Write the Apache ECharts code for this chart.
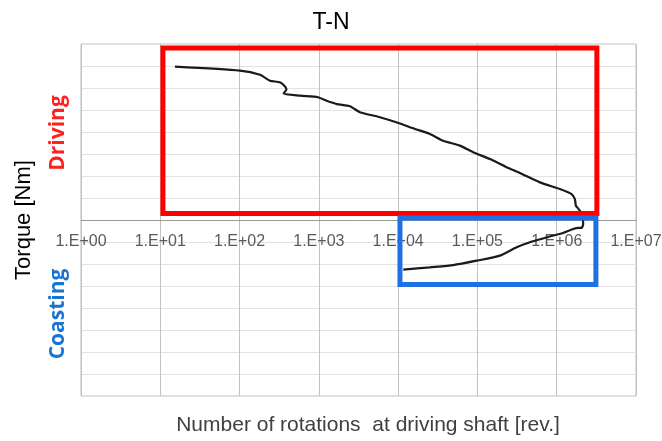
<!DOCTYPE html>
<html>
<head>
<meta charset="utf-8">
<title>T-N</title>
<script src="https://cdn.jsdelivr.net/npm/echarts@6/dist/echarts.min.js"></script>
<style>
  html, body { margin: 0; padding: 0; background: #fff; }
  #chart { width: 662px; height: 441px; }
</style>
</head>
<body>
<div id="chart"></div>
<script>
// number of rotations at driving shaft [rev.] (log scale) and torque (relative units, +driving / -coasting)
const rotations = [
  15.3, 101, 181, 242, 322, 374, 390, 358, 578, 975,
  1254, 1691, 2466, 3297, 5890, 9660, 16290, 25180, 37070, 60140,
  88510, 143900, 233500, 343600, 614000, 1096000, 1541000, 1695000, 1746000, 1963000,
  2122000, 2158000, 2061000, 1850000, 1197000, 746000, 459000, 312000, 192000, 97700,
  49500, 25200, 11600
]
const torque = [
  6.97, 6.79, 6.60, 6.33, 6.26, 6.07, 5.93, 5.75, 5.65, 5.58,
  5.42, 5.27, 5.17, 4.90, 4.67, 4.43, 4.14, 3.91, 3.60, 3.38,
  3.08, 2.77, 2.40, 2.14, 1.71, 1.41, 1.18, 0.95, 0.65, 0.42,
  0.05, -0.18, -0.36, -0.36, -0.59, -0.79, -1.01, -1.24, -1.62, -1.85,
  -2.05, -2.15, -2.26
]

// x tick values (decades) and their labels
const xTicks = [1, 10, 100, 1000, 10000, 100000, 1000000, 10000000]
const xTickLabels = ['1.E+00', '1.E+01', '1.E+02', '1.E+03', '1.E+04', '1.E+05', '1.E+06', '1.E+07']

// highlighted regions [xMin, xMax], [yMin, yMax]
const drivingBoxX = [10.8, 3210000]
const drivingBoxY = [0.3, 7.82]
const coastingBoxX = [10540, 3120000]
const coastingBoxY = [-2.93, 0.09]

const chart = echarts.init(document.getElementById('chart'))

const points = rotations.map((r, i) => [r, torque[i]])

// the x axis sits on torque = 0, half way down the plot
const gridTop = 44
const gridBottom = 45
const plotH = 441 - gridTop - gridBottom

const option = {
  animation: false,
  title: {
    text: 'T-N',
    left: 'center',
    top: 6,
    textStyle: { fontFamily: 'Liberation Sans', fontSize: 23, fontWeight: 'normal', color: '#000' }
  },
  grid: {
    left: 81,
    right: 26,
    top: gridTop,
    bottom: gridBottom,
    outerBoundsMode: 'none',
    show: true,
    borderColor: '#bdbdbd',
    borderWidth: 1
  },
  xAxis: {
    type: 'log',
    logBase: 10,
    min: 1,
    max: 10000000,
    position: 'bottom',
    offset: -plotH / 2,
    axisLine: { onZero: false, lineStyle: { color: '#9a9a9a', width: 1 } },
    axisTick: { show: false },
    splitLine: { show: true, lineStyle: { color: '#c2c2c2', width: 1 } },
    axisLabel: {
      margin: 14,
      fontFamily: 'Liberation Sans',
      fontSize: 16,
      color: '#5a5a5a',
      showMinLabel: true,
      showMaxLabel: true,
      formatter: function (v) {
        const i = xTicks.indexOf(v)
        return i >= 0 ? xTickLabels[i] : ''
      }
    }
  },
  yAxis: {
    type: 'value',
    min: -8,
    max: 8,
    interval: 1,
    name: 'Torque [Nm]',
    nameLocation: 'middle',
    nameGap: 46,
    nameTextStyle: { fontFamily: 'Liberation Sans', fontSize: 22, color: '#000' },
    axisLine: { show: false },
    axisTick: { show: false },
    axisLabel: { show: false },
    splitLine: { show: true, lineStyle: { color: '#e2e2e2', width: 1 } }
  },
  graphic: [
    {
      type: 'text',
      x: 58,
      y: 133,
      rotation: Math.PI / 2,
      style: {
        text: 'Driving',
        fill: '#ff2020',
        font: 'bold 21px "Open Sans"',
        align: 'center',
        verticalAlign: 'middle'
      }
    },
    {
      type: 'text',
      x: 58,
      y: 314,
      rotation: Math.PI / 2,
      style: {
        text: 'Coasting',
        fill: '#1b75d0',
        font: 'bold 21px "Open Sans"',
        align: 'center',
        verticalAlign: 'middle'
      }
    },
    {
      type: 'text',
      x: 368,
      y: 425,
      style: {
        text: 'Number of rotations  at driving shaft [rev.]',
        fill: '#404040',
        font: '21px "Liberation Sans"',
        align: 'center',
        verticalAlign: 'middle'
      }
    }
  ],
  series: [
    {
      type: 'line',
      data: points,
      showSymbol: false,
      smooth: 0.2,
      lineStyle: { color: '#1a1a1a', width: 2.2 },
      z: 3,
      markArea: {
        silent: true,
        z: 4,
        data: [
          [
            { coord: [drivingBoxX[0], drivingBoxY[1]], itemStyle: { color: 'rgba(0,0,0,0)', borderColor: '#ff0000', borderWidth: 5 } },
            { coord: [drivingBoxX[1], drivingBoxY[0]] }
          ],
          [
            { coord: [coastingBoxX[0], coastingBoxY[1]], itemStyle: { color: 'rgba(0,0,0,0)', borderColor: '#1f6fe5', borderWidth: 5 } },
            { coord: [coastingBoxX[1], coastingBoxY[0]] }
          ]
        ]
      }
    }
  ]
}

chart.setOption(option)
</script>
</body>
</html>
